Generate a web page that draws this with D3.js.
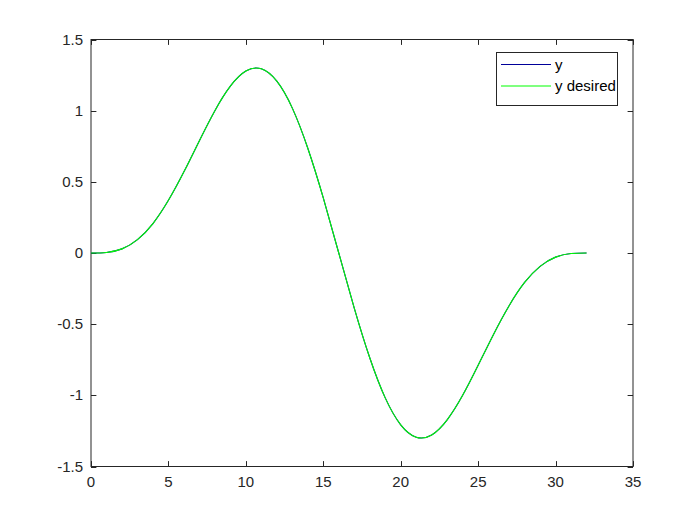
<!DOCTYPE html>
<html><head><meta charset="utf-8">
<script src="https://cdn.jsdelivr.net/npm/d3@7"></script>
<style>body{margin:0;background:#fff}svg{display:block}text{font-family:"Liberation Sans",Arial,sans-serif}</style>
</head><body><svg id="c" width="700" height="525"></svg>
<script>
const tValues = d3.range(0, 33);
const yValues = [0,0.004,0.029,0.094,0.207,0.370,0.570,0.789,1.000,1.172,1.278,1.294,1.207,1.018,0.736,0.387,0,
  -0.387,-0.736,-1.018,-1.207,-1.294,-1.278,-1.172,-1.000,-0.789,-0.570,-0.370,-0.207,-0.094,-0.029,-0.004,0];
const yDesiredValues = [0,0.004,0.029,0.094,0.207,0.370,0.570,0.789,1.000,1.172,1.278,1.294,1.207,1.018,0.736,0.387,0,
  -0.387,-0.736,-1.018,-1.207,-1.294,-1.278,-1.172,-1.000,-0.789,-0.570,-0.370,-0.207,-0.094,-0.029,-0.004,0];
const xTicks = [0,5,10,15,20,25,30,35];
const yTicks = [-1.5,-1,-0.5,0,0.5,1,1.5];
const seriesNames = ["y","y desired"];
const seriesColors = ["#000099","#00ff00"];

const svg = d3.select("#c");
const L=91, R=633, T=39.5, B=466.5;
const x = d3.scaleLinear().domain([0,35]).range([L,R]);
const y = d3.scaleLinear().domain([-1.5,1.5]).range([B,T]);
const tl = 5.4;
const axisColor = "#262626";

// frame
svg.append("rect").attr("x",L).attr("y",T).attr("width",R-L).attr("height",B-T)
  .attr("fill","none").attr("stroke",axisColor).attr("stroke-width",1);

const g = svg.append("g");
// x ticks (inside, bottom and top)
xTicks.forEach(v=>{
  const px = Math.round(x(v))+0.5;
  g.append("line").attr("x1",px).attr("x2",px).attr("y1",B).attr("y2",B-tl).attr("stroke",axisColor);
  g.append("line").attr("x1",px).attr("x2",px).attr("y1",T).attr("y2",T+tl).attr("stroke",axisColor);
  g.append("text").attr("x",x(v)).attr("y",B+20).attr("text-anchor","middle")
   .attr("font-size",15).attr("fill",axisColor).text(d3.format("")(v));
});
yTicks.forEach(v=>{
  const py = Math.round(y(v))+0.5;
  g.append("line").attr("x1",L).attr("x2",L+tl).attr("y1",py).attr("y2",py).attr("stroke",axisColor);
  g.append("line").attr("x1",R).attr("x2",R-tl).attr("y1",py).attr("y2",py).attr("stroke",axisColor);
  g.append("text").attr("x",L-8).attr("y",y(v)+5).attr("text-anchor","end")
   .attr("font-size",15).attr("fill",axisColor).text(String(v));
});

const line = d3.line().x((d,i)=>x(tValues[i])).y(d=>y(d)).curve(d3.curveNatural);
[yValues,yDesiredValues].forEach((vals,k)=>{
  svg.append("path").attr("d",line(vals)).attr("fill","none")
    .attr("stroke",seriesColors[k]).attr("stroke-width",1.1);
});

// legend
const lg = svg.append("g");
lg.append("rect").attr("x",496.5).attr("y",52.5).attr("width",121).attr("height",53)
  .attr("fill","#fff").attr("stroke",axisColor).attr("stroke-width",1);
seriesNames.forEach((n,i)=>{
  const ly = 64.5 + i*21.5;
  lg.append("line").attr("x1",501).attr("x2",551).attr("y1",ly).attr("y2",ly)
    .attr("stroke",seriesColors[i]).attr("stroke-width",1.1);
  lg.append("text").attr("x",555).attr("y",ly+5).attr("font-size",15).attr("fill","#000").text(n);
});
</script></body></html>
